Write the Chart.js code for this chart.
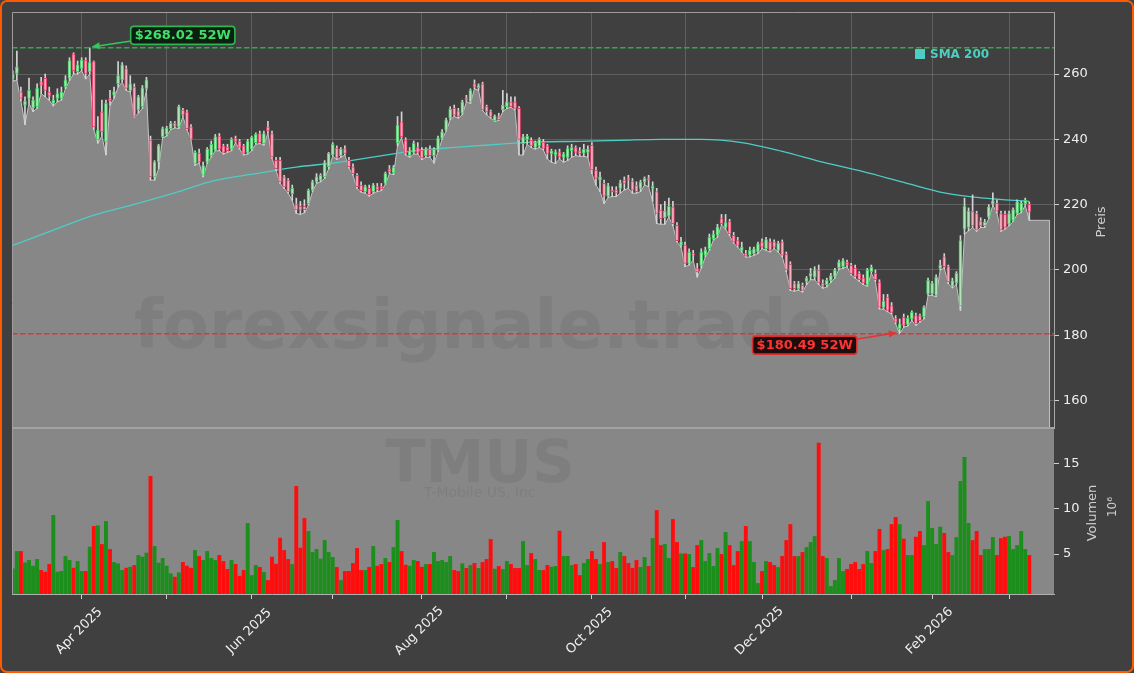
<!DOCTYPE html>
<html>
<head>
<meta charset="utf-8">
<script src="https://cdn.jsdelivr.net/npm/chart.js"></script>
<style>
    html, body { margin: 0; padding: 0; background: #404040; }
    #wrap { position: relative; width: 1134px; height: 673px; }
    #frame { position: absolute; left: 0; top: 0; width: 1134px; height: 673px; box-sizing: border-box;
             border: 2px solid #ff5a00; border-radius: 7px; pointer-events: none; }
    canvas { position: absolute; left: 0; top: 0; }
</style>
</head>
<body>
<div id="wrap"><canvas id="chart" width="1134" height="673"></canvas><div id="frame"></div></div>
<script>
// TMUS daily candles, [open, high, low, close], first row = 2025-03-07
const candles = [
    [258.5, 261, 257.8, 260], [260.2, 267, 258.2, 262.2], [254.6, 256, 251.8, 252.5], [250.5, 253, 244.5, 251.7],
    [252.5, 258.8, 251, 255], [249.6, 253, 248.5, 252], [250, 257, 249.5, 255.7], [257.6, 259, 254, 256.6],
    [258.7, 260, 253, 255], [254.5, 256, 252, 253.2], [251, 253.5, 250.2, 252], [252.5, 255.5, 251.5, 254],
    [252.5, 256, 252, 254.5], [256.1, 259.5, 255.5, 258.2], [258.7, 265, 258, 264.1], [266.1, 266.5, 260, 261],
    [260.7, 264, 260, 262.8], [261.7, 265, 261, 264.3], [264.3, 265, 258.5, 260.2], [260.7, 268.02, 260, 263.5],
    [263.8, 264, 243, 243.8], [239.8, 247, 238.8, 242.8], [248.4, 252, 241, 242.3], [239.2, 252, 235.2, 251],
    [252.5, 255, 250.5, 251.8], [253.5, 256, 252.5, 254.6], [257, 263.8, 256, 259.5], [258.2, 263.5, 257.5, 262.8],
    [261.7, 262.5, 255, 255.6], [255, 259.5, 254.5, 257], [256, 257, 246.8, 247], [249, 253.5, 248, 253],
    [250, 256.5, 249.5, 255.8], [255.6, 259, 255, 258.2], [239.8, 241, 227.5, 228.5], [228.5, 233.5, 227.5, 233.1],
    [233.1, 238.5, 231, 238.2], [240.8, 243.8, 240.5, 243.3], [241.5, 244, 241, 243.5], [243.3, 245.5, 243, 244.9],
    [245, 245.5, 243.5, 244], [243.8, 250.5, 243.3, 250], [249, 249.5, 247, 247.4], [248.4, 249, 243, 243.3],
    [243.8, 244.5, 239.8, 240], [232.5, 236.5, 232, 236], [235.8, 237, 232.8, 233], [229, 233, 228.5, 232],
    [233, 237.5, 232.6, 237], [235, 239.5, 234.6, 238.5], [236.7, 241.5, 236.5, 240.8], [241, 241.8, 236.5, 237],
    [238, 238.5, 235.5, 236], [237.7, 238.5, 236, 236.5], [237, 240.5, 236.5, 240], [240.2, 241, 239, 239.4],
    [239.5, 240, 237, 237.5], [238, 238.5, 235.2, 235.7], [236, 240, 235.5, 239.5], [237, 241, 236.5, 240.6],
    [239, 242, 238.5, 241.5], [241.8, 242.5, 238.7, 239], [238.7, 242.5, 238.2, 241.8], [243.8, 245.5, 242, 242.6],
    [241.8, 242.5, 234.2, 234.6], [233.6, 234.5, 230.5, 231], [233.6, 234.5, 226.5, 227], [228.5, 229, 225, 225.4],
    [227.5, 228, 223.5, 223.9], [223.4, 226, 221.3, 225], [220, 222, 217.3, 218.4], [219.5, 221, 217, 218.3],
    [219.5, 221.5, 217.5, 218.5], [220.3, 224.8, 219.8, 224.4], [224.4, 227.5, 224, 227], [227, 229.5, 226.5, 228.5],
    [227.5, 229.5, 227, 229], [228.5, 233.5, 228, 232.9], [231.6, 236, 231, 235.7], [235.2, 239, 234.8, 238.5],
    [237.3, 238, 233.8, 234.2], [235, 237.5, 234.5, 237], [237.1, 238, 235.2, 235.7], [233.6, 234.5, 231.2, 231.6],
    [231.6, 232.5, 229, 229.5], [229, 229.5, 225, 225.5], [226, 227, 223.8, 224.3], [224, 226, 223.5, 225.5],
    [225, 226, 222.6, 223], [224, 226.5, 223.5, 226], [225.5, 226.5, 224, 224.5], [225.5, 226.5, 224.3, 224.8],
    [226.6, 230, 226.2, 229.6], [231, 232, 229.5, 230], [229.8, 232, 229.2, 231.5], [239, 247, 238, 244.4],
    [245.4, 248.4, 240.5, 240.8], [239.8, 240.5, 235.2, 235.8], [235, 237.5, 234.5, 236.5], [236, 239.5, 235.5, 238.8],
    [237.5, 239, 235.5, 236], [236.7, 237.5, 233.8, 234.2], [235, 237.5, 234.5, 237], [237, 238, 234.5, 235],
    [235, 237.5, 232.7, 237], [236.7, 241, 236.2, 240.4], [240.3, 243, 240, 242.3], [242.8, 246.5, 242.5, 246],
    [246.5, 250, 246, 249.3], [249.6, 250.5, 247, 247.4], [248.7, 249.5, 246.5, 247], [248, 252, 247.5, 251.5],
    [252.7, 253.5, 251.5, 252], [251.5, 255.5, 251, 255], [257, 258.2, 255.5, 256], [255.8, 257, 255, 256.5],
    [257, 257.5, 248.8, 249], [250, 250.5, 247.5, 248.4], [248.5, 249, 246.5, 247], [245.7, 247.5, 245.5, 247.2],
    [247, 248, 245.8, 246], [249, 255, 248.5, 250.5], [250, 254, 249.5, 251.5], [251.5, 253, 249.8, 250],
    [251.5, 253, 249, 249.5], [249.5, 250, 235.2, 240], [238.7, 241.5, 235.2, 240.8], [240, 241.5, 238.5, 241],
    [239.8, 240.5, 237.5, 238], [237.5, 239.5, 237, 239], [238, 240.5, 237.5, 240], [239.2, 240, 236.8, 237.2],
    [238, 238.5, 234, 235.7], [235.5, 237, 233, 236.5], [235.2, 236.8, 232.6, 236.2], [236.2, 237, 234, 234.6],
    [234.5, 236, 233, 235.5], [234.5, 238, 233.5, 237.2], [236.5, 238.5, 234.5, 237.5], [237.5, 238, 235, 236],
    [236.5, 237.5, 234.8, 235.5], [235.8, 238.5, 234.8, 237], [236, 238, 234.5, 237], [238.2, 239, 229.5, 230.6],
    [230.6, 231.5, 226, 228], [227.5, 230, 224, 228.5], [226.5, 227.5, 220.3, 222.6], [222.6, 226.5, 222.2, 225.8],
    [224.5, 225.5, 222.5, 224], [224.5, 225.5, 222.5, 223.5], [225, 227.5, 223.5, 226.7], [227.5, 228.5, 224.5, 226.5],
    [228.2, 229, 225, 227.5], [227.2, 228, 223.5, 224.4], [226, 227, 223.5, 224], [225, 227.5, 224, 227],
    [227, 228.5, 226, 228], [228.2, 229, 225.5, 227.5], [225, 227, 221, 225.6], [224, 225, 214.2, 217.3],
    [218.3, 220, 214, 215.7], [216, 221, 214, 218], [216.5, 222, 216.2, 219.5], [219.3, 221, 213.5, 214.2],
    [213.7, 214.5, 208.6, 209], [207.6, 210, 207, 208.6], [207.6, 208.5, 201, 202], [202, 206.5, 201.5, 205.5],
    [205, 206, 203, 204.5], [200.4, 202, 197.8, 199.4], [201.4, 206.5, 200.5, 205.5], [204.5, 207, 204, 206.2],
    [206.5, 211, 206, 210], [209.6, 212, 209.2, 211], [210.6, 214, 210, 213.2], [215.7, 217, 213.8, 214.2],
    [213, 217, 212.5, 214.5], [214.8, 215.5, 210.5, 211], [210.6, 211.5, 208.2, 208.6], [209, 210, 207, 207.5],
    [206, 208.5, 205.5, 207], [205, 206, 203.9, 204.2], [204.5, 207, 204, 206], [205, 207, 204.5, 206.5],
    [205.5, 208.5, 205, 208], [208.6, 209.5, 206.5, 207], [206.5, 210, 206, 209.3], [208.6, 209.5, 205.5, 206],
    [208.6, 209.2, 206.5, 207], [206, 208.8, 205.5, 208.2], [208.6, 209.2, 204, 204.5], [204.8, 205.5, 199.5, 200],
    [201.7, 202.5, 193.7, 194.3], [195.8, 196.5, 193.5, 194.3], [194.3, 196.5, 193.8, 195.8], [195.3, 196, 193.2, 193.7],
    [196.5, 198, 195.5, 197.5], [198, 200.5, 197, 199], [197.8, 201, 197, 200], [200, 201.5, 195.5, 196],
    [196, 197, 194.4, 195], [195.5, 197.5, 194.8, 196.8], [196.8, 199, 196.2, 198.3], [198, 200.5, 197.5, 200],
    [200.7, 203, 200.2, 202.4], [201, 203.5, 200.5, 202.9], [202.4, 203, 201, 201.5], [201.4, 202, 198.5, 198.9],
    [200.6, 201.5, 197.5, 198], [199, 199.5, 196.5, 197], [197.6, 198.5, 195.5, 196], [195.4, 200.5, 195, 200],
    [199.5, 201.5, 199, 200.8], [199, 200, 196.5, 197], [196.3, 197, 188, 188.6], [188.5, 192.5, 188, 190.5],
    [191.7, 192.5, 187.2, 187.6], [189, 190, 186.5, 187], [185.1, 186, 183.5, 184], [182, 185, 180.49, 183.5],
    [185.5, 186.5, 182.5, 183], [183.3, 186, 182.8, 185.2], [185, 187.5, 184.5, 187], [186, 186.8, 183, 183.5],
    [186, 186.5, 184, 184.5], [185.6, 189, 185, 188.6], [192.7, 197.5, 192.2, 196.8], [192.7, 196.5, 192.2, 196],
    [192.2, 198.5, 191.8, 197.8], [200.5, 203, 200, 201.5], [204, 205, 200.5, 201], [201, 201.5, 195.8, 196.3],
    [195, 197.5, 194.5, 196.7], [196, 199.5, 195.5, 199], [189, 210.5, 187.6, 209], [212.5, 222, 211, 219.5],
    [213, 219, 212, 218], [218, 223, 213, 213.5], [217.3, 218, 211.8, 212.2], [215, 216, 213, 213.5],
    [213.6, 215.5, 213, 214.7], [216.2, 220, 215.8, 219.3], [220.2, 223.6, 219.8, 221.2], [220.5, 221.5, 217.5, 218],
    [217.3, 218, 211.8, 212.2], [217, 218, 212.5, 213], [214, 218, 213.5, 217.3], [215.2, 219, 214.8, 218.5],
    [217.3, 221.5, 217, 220.9], [218, 221, 217.5, 220.5], [220.3, 222, 219.8, 221.3], [220.1, 220.8, 215.2, 217.8]
];

// volume in millions, one per candle
const volumes = [
    3.42, 5.33, 5.33, 4.08, 4.34, 3.71, 4.45, 3.24, 3.05, 3.9, 9.3, 3.05, 3.13, 4.78, 4.34, 3.49, 4.23, 3.13, 3.13, 5.81,
    8.09, 8.16, 6.1, 8.64, 5.55, 4.12, 3.97, 3.24, 3.49, 3.6, 3.79, 4.89, 4.71, 5.15, 13.6, 5.88, 4.04, 4.56, 3.71, 2.87,
    2.5, 2.98, 4.12, 3.71, 3.49, 5.44, 4.78, 4.34, 5.33, 4.56, 4.34, 4.89, 4.23, 3.35, 4.34, 3.9, 2.6, 3.24, 8.42, 2.68,
    3.79, 3.57, 3.02, 2.13, 4.71, 3.93, 6.8, 5.44, 4.45, 3.9, 12.5, 5.7, 8.97, 7.54, 5.22, 5.55, 4.49, 6.54, 5.22, 4.67,
    3.57, 2.13, 3.13, 3.13, 4.01, 5.66, 3.24, 3.24, 3.57, 5.88, 3.71, 3.9, 4.56, 4.12, 5.77, 8.75, 5.33, 3.82, 3.71, 4.34,
    4.23, 3.6, 3.9, 3.9, 5.22, 4.23, 4.34, 4.12, 4.78, 3.24, 3.13, 3.97, 3.46, 3.79, 4.01, 3.46, 4.12, 4.45, 6.65, 3.38,
    3.68, 3.35, 4.23, 3.9, 3.46, 3.46, 6.43, 3.79, 5.11, 4.45, 3.24, 3.24, 3.79, 3.6, 3.68, 7.57, 4.78, 4.78, 3.79, 3.9,
    2.68, 4.01, 4.45, 5.33, 4.45, 3.9, 6.32, 4.12, 4.23, 3.46, 5.22, 4.78, 4.01, 3.46, 4.34, 3.57, 4.67, 3.68, 6.76, 9.85,
    5.99, 6.1, 4.56, 8.86, 6.32, 5.07, 5.07, 5.0, 3.57, 5.99, 6.54, 4.23, 5.11, 3.68, 5.66, 5.0, 7.43, 5.99, 3.79, 5.33,
    6.43, 8.09, 6.43, 4.12, 1.8, 3.13, 4.23, 4.12, 3.79, 3.57, 4.78, 6.54, 8.3, 4.78, 4.78, 5.22, 5.77, 6.32, 6.98, 17.27,
    4.78, 4.56, 1.47, 2.13, 4.56, 3.13, 3.35, 3.9, 4.12, 3.35, 3.9, 5.33, 4.01, 5.33, 7.76, 5.44, 5.55, 8.3, 9.08, 8.3,
    6.69, 4.89, 4.89, 6.91, 7.54, 5.99, 10.84, 7.87, 6.1, 8.02, 7.32, 5.22, 4.89, 6.87, 13.05, 15.7, 8.42, 6.54, 7.54, 4.89,
    5.55, 5.55, 6.87, 4.89, 6.76, 6.91, 6.98, 5.55, 5.99, 7.54, 5.55, 4.89
];

// flat tail of the low area after the last candle
const tailLows = [215.2, 215.2, 215.2, 215.2, 215.2];

// SMA 200 read at these candle positions
const smaIdx = [0, 10, 20, 30, 40, 50, 60, 70, 80, 90, 100, 110, 120, 130, 140, 150, 160, 170, 180, 190, 200, 210, 220, 230, 240, 251];
const smaVal = [207.5, 212.2, 216.8, 220.1, 223.6, 227.4, 229.5, 231.5, 232.9, 234.8, 236.6, 237.6, 238.5, 239.2, 239.4,
    239.7, 240.0, 240.0, 239.0, 236.3, 233.0, 230.1, 226.8, 223.6, 222.0, 221.0];

const high52 = 268.02;
const low52 = 180.49;
const high52Idx = 19;
const low52Idx = 219;

const priceTicks = [160, 180, 200, 220, 240, 260];
const volumeTicks = [5, 10, 15];

const startDate = '2025-03-07';
const holidays = ['2025-04-18', '2025-05-26', '2025-06-19', '2025-07-04', '2025-09-01',
    '2025-11-27', '2025-12-25', '2026-01-01', '2026-01-19', '2026-02-16'];
const monthNames = ['Jan', 'Feb', 'Mar', 'Apr', 'May', 'Jun', 'Jul', 'Aug', 'Sep', 'Oct', 'Nov', 'Dec'];

const UP_BODY = '#b4e2bb';
const UP_EDGE = '#47cc66';
const DOWN_BODY = '#f5b0c0';
const DOWN_EDGE = '#e8456f';
const FONT = 'DejaVu Sans';

function tradingDays(start, count) {
    const out = [];
    const d = new Date(start + 'T00:00:00Z');
    while (out.length < count) {
        const dow = d.getUTCDay();
        const iso = d.toISOString().slice(0, 10);
        if (dow !== 0 && dow !== 6 && !holidays.includes(iso)) {
            out.push(new Date(d));
        }
        d.setUTCDate(d.getUTCDate() + 1);
    }
    return out;
}

const dates = tradingDays(startDate, candles.length);
const monthTicks = [];
dates.forEach((d, i) => {
    if (i > 0 && d.getUTCMonth() !== dates[i - 1].getUTCMonth()) {
        const m = d.getUTCMonth();
        monthTicks.push({
            idx: i,
            label: (m + 1) % 2 === 0 ? `${monthNames[m]} ${d.getUTCFullYear()}` : '',
        });
    }
});

const isUp = i => candles[i][3] >= candles[i][0];

const lowArea = candles.map((c, i) => ({ x: i, y: c[2] }))
    .concat(tailLows.map((v, k) => ({ x: candles.length + k, y: v })));

function arrow(ctx, x0, y0, x1, y1, color) {
    const ang = Math.atan2(y1 - y0, x1 - x0);
    const len = 8;
    ctx.strokeStyle = color;
    ctx.fillStyle = color;
    ctx.lineWidth = 1.5;
    ctx.beginPath();
    ctx.moveTo(x0, y0);
    ctx.lineTo(x1 - Math.cos(ang) * len * 0.8, y1 - Math.sin(ang) * len * 0.8);
    ctx.stroke();
    ctx.beginPath();
    ctx.moveTo(x1, y1);
    ctx.lineTo(x1 - len * Math.cos(ang) + 3.5 * Math.sin(ang), y1 - len * Math.sin(ang) - 3.5 * Math.cos(ang));
    ctx.lineTo(x1 - len * Math.cos(ang) - 3.5 * Math.sin(ang), y1 - len * Math.sin(ang) + 3.5 * Math.cos(ang));
    ctx.closePath();
    ctx.fill();
}

function labelBox(ctx, cx, cy, text, fill, edge, color) {
    ctx.font = `bold 13px ${FONT}`;
    const w = ctx.measureText(text).width + 8;
    const h = 18;
    ctx.beginPath();
    ctx.roundRect(cx - w / 2, cy - h / 2, w, h, 3);
    ctx.fillStyle = fill;
    ctx.fill();
    ctx.lineWidth = 1.6;
    ctx.strokeStyle = edge;
    ctx.stroke();
    ctx.fillStyle = color;
    ctx.textAlign = 'center';
    ctx.textBaseline = 'middle';
    ctx.fillText(text, cx, cy + 0.5);
}

const decorations = {
    id: 'decorations',
    beforeDatasetsDraw(chart) {
        const { ctx, chartArea: a, scales } = chart;
        const v = scales.v;
        ctx.save();
        ctx.fillStyle = '#878787';
        ctx.fillRect(a.left, v.top, a.right - a.left, v.bottom - v.top);
        ctx.restore();
    },
    afterDatasetDraw(chart, args) {
        if (args.index !== 0) {
            return;
        }
        const { ctx, chartArea: a, scales } = chart;
        const pts = args.meta.data;
        const last = pts[pts.length - 1];
        ctx.save();
        ctx.strokeStyle = '#c4c4c4';
        ctx.lineWidth = 1;
        ctx.beginPath();
        ctx.moveTo(last.x, last.y);
        ctx.lineTo(last.x, scales.y.bottom);
        ctx.stroke();

        ctx.beginPath();
        ctx.rect(a.left, a.top, a.right - a.left, a.bottom - a.top);
        ctx.clip();
        ctx.fillStyle = 'rgba(0, 0, 0, 0.065)';
        ctx.textAlign = 'center';
        ctx.textBaseline = 'alphabetic';
        ctx.font = `bold 67px ${FONT}`;
        ctx.fillText('forexsignale.trade', a.left + 471, 348);
        ctx.font = `bold 59px ${FONT}`;
        ctx.fillText('TMUS', a.left + 468, 482);
        ctx.font = `14px ${FONT}`;
        ctx.fillText('T-Mobile US, Inc.', a.left + 470, 497);
        ctx.restore();
    },
    afterDatasetsDraw(chart) {
        const { ctx, chartArea: a, scales } = chart;
        const x = scales.x;
        const y = scales.y;
        ctx.save();

        // 52 week levels
        ctx.lineWidth = 1.5;
        ctx.setLineDash([5.5, 2.5]);
        ctx.strokeStyle = '#2fa84f';
        ctx.beginPath();
        ctx.moveTo(a.left, y.getPixelForValue(high52));
        ctx.lineTo(a.right, y.getPixelForValue(high52));
        ctx.stroke();
        ctx.strokeStyle = '#d9363e';
        ctx.beginPath();
        ctx.moveTo(a.left, y.getPixelForValue(low52));
        ctx.lineTo(a.right, y.getPixelForValue(low52));
        ctx.stroke();
        ctx.setLineDash([]);

        const hx = x.getPixelForValue(high52Idx);
        const hy = y.getPixelForValue(high52);
        arrow(ctx, hx + 43, hy - 7, hx + 2, hy - 1, '#33c85a');
        labelBox(ctx, hx + 93, hy - 12.5, '$268.02 52W', '#0c1f11', '#2fb552', '#3fe06a');

        const lx = x.getPixelForValue(low52Idx);
        const ly = y.getPixelForValue(low52);
        arrow(ctx, lx - 47, ly + 6, lx - 3, ly - 1, '#e23434');
        labelBox(ctx, lx - 95, ly + 11.5, '$180.49 52W', '#1f0c0c', '#d92e2e', '#ff3535');

        // legend
        ctx.fillStyle = '#4ecdc4';
        ctx.fillRect(915, 49, 10, 10);
        ctx.font = `bold 12px ${FONT}`;
        ctx.textAlign = 'left';
        ctx.textBaseline = 'middle';
        ctx.fillText('SMA 200', 930, 54.5);

        // frame
        ctx.strokeStyle = '#9e9e9e';
        ctx.lineWidth = 1;
        ctx.beginPath();
        ctx.moveTo(a.left + 0.5, a.bottom);
        ctx.lineTo(a.left + 0.5, a.top + 0.5);
        ctx.lineTo(a.right, a.top + 0.5);
        ctx.stroke();
        ctx.strokeStyle = '#a2a2a2';
        ctx.lineWidth = 2;
        ctx.beginPath();
        ctx.moveTo(a.left, y.bottom);
        ctx.lineTo(a.right, y.bottom);
        ctx.stroke();
        ctx.restore();
    },
    afterDraw(chart) {
        const { ctx, chartArea: a, scales } = chart;
        const x = scales.x;
        ctx.save();
        ctx.fillStyle = '#f0f0f0';
        ctx.font = `13px ${FONT}`;
        ctx.textAlign = 'center';
        ctx.textBaseline = 'middle';
        monthTicks.forEach(t => {
            if (!t.label) {
                return;
            }
            ctx.save();
            ctx.translate(x.getPixelForValue(t.idx) - 2.5, a.bottom + 37);
            ctx.rotate(-Math.PI / 4);
            ctx.fillText(t.label, 0, 0);
            ctx.restore();
        });

        const titles = [
            ['Preis', 1102, (scales.y.top + scales.y.bottom) / 2 + 2, 13],
            ['Volumen', 1093, (scales.v.top + scales.v.bottom) / 2 + 2, 13],
            ['10\u2076', 1113, (scales.v.top + scales.v.bottom) / 2 - 4, 12],
        ];
        ctx.fillStyle = '#cfcfcf';
        titles.forEach(([text, tx, ty, size]) => {
            ctx.save();
            ctx.font = `${size}px ${FONT}`;
            ctx.translate(tx, ty);
            ctx.rotate(-Math.PI / 2);
            ctx.fillText(text, 0, 0);
            ctx.restore();
        });
        ctx.restore();
    },
};

const tickFont = { family: FONT, size: 13 };

new Chart(document.getElementById('chart'), {
    data: {
        datasets: [
            {
                type: 'line',
                label: 'Low',
                data: lowArea,
                yAxisID: 'y',
                fill: 'start',
                backgroundColor: '#878787',
                borderColor: '#c4c4c4',
                borderWidth: 1,
                pointRadius: 0,
                tension: 0,
                order: 10,
            },
            {
                type: 'line',
                label: 'SMA 200',
                data: smaIdx.map((idx, k) => ({ x: idx, y: smaVal[k] })),
                yAxisID: 'y',
                borderColor: '#4ecdc4',
                borderWidth: 1.3,
                pointRadius: 0,
                fill: false,
                cubicInterpolationMode: 'monotone',
                order: 4,
            },
            {
                type: 'bar',
                label: 'Wick',
                data: candles.map((c, i) => ({ x: i, y: [c[2], c[1]] })),
                yAxisID: 'y',
                backgroundColor: '#d4d4d4',
                barThickness: 1,
                grouped: false,
                order: 3,
            },
            {
                type: 'bar',
                label: 'Body',
                data: candles.map((c, i) => ({ x: i, y: [c[0], c[3]] })),
                yAxisID: 'y',
                backgroundColor: ctx => (isUp(ctx.dataIndex) ? UP_BODY : DOWN_BODY),
                borderColor: ctx => (isUp(ctx.dataIndex) ? UP_EDGE : DOWN_EDGE),
                borderWidth: 1,
                borderSkipped: false,
                barThickness: 3,
                minBarLength: 1.5,
                grouped: false,
                order: 2,
            },
            {
                type: 'bar',
                label: 'Volumen',
                data: volumes.map((v, i) => ({ x: i, y: v })),
                yAxisID: 'v',
                backgroundColor: ctx => (isUp(ctx.dataIndex) ? '#1b8e1b' : '#ff0d0d'),
                barPercentage: 0.96,
                categoryPercentage: 1,
                grouped: false,
                order: 1,
            },
        ],
    },
    options: {
        responsive: false,
        animation: false,
        layout: { padding: { left: 12, top: 12, right: 0, bottom: 0 } },
        plugins: {
            legend: { display: false },
            tooltip: { enabled: false },
        },
        scales: {
            x: {
                type: 'linear',
                offset: false,
                min: -0.2,
                max: 257.1,
                afterBuildTicks: s => { s.ticks = monthTicks.map(t => ({ value: t.idx })); },
                afterFit: s => { s.height = 79; },
                ticks: { display: false, autoSkip: false },
                grid: { offset: false, color: 'rgba(255, 255, 255, 0.17)', tickColor: '#d0d0d0', tickLength: 5 },
                border: { color: '#b0b0b0' },
            },
            y: {
                type: 'linear',
                position: 'right',
                stack: 'panels',
                stackWeight: 416,
                min: 151.6,
                max: 279,
                afterBuildTicks: s => { s.ticks = priceTicks.map(v => ({ value: v })); },
                afterFit: s => { s.width = 80; },
                ticks: { color: '#eeeeee', font: tickFont, padding: 4 },
                grid: { color: 'rgba(255, 255, 255, 0.17)', tickColor: '#d0d0d0', tickLength: 5 },
                border: { color: '#a8a8a8' },
            },
            v: {
                type: 'linear',
                position: 'right',
                stack: 'panels',
                stackWeight: 166,
                min: 0.6,
                max: 18.9,
                afterBuildTicks: s => { s.ticks = volumeTicks.map(v => ({ value: v })); },
                afterFit: s => { s.width = 80; },
                ticks: { color: '#eeeeee', font: tickFont, padding: 4 },
                grid: { color: 'rgba(0, 0, 0, 0)', tickColor: '#d0d0d0', tickLength: 5 },
                border: { display: false },
            },
        },
    },
    plugins: [decorations],
});
</script>
</body>
</html>
